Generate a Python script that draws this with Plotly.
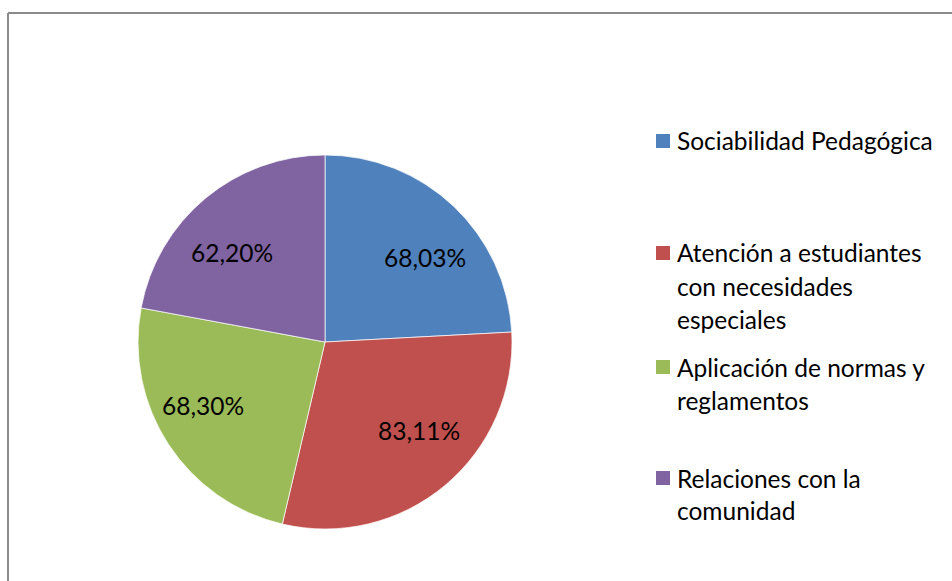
import math
import plotly.graph_objects as go

# Dimension scores shown as slices (values are the printed percentages)
categories = [
    "Sociabilidad Pedagógica",
    "Atención a estudiantes<br>con necesidades<br>especiales",
    "Aplicación de normas y<br>reglamentos",
    "Relaciones con la<br>comunidad",
]
values = [68.03, 83.11, 68.30, 62.20]
colors = ["#4F81BD", "#C0504D", "#9BBB59", "#8064A2"]

W, H = 952, 581
FONT = "Lato"
FS = 24.5


def px_x(x):
    return x / W


def px_y(y):
    return 1 - y / H


# Pie geometry in pixels
cx, cy, R = 325, 342, 187

fig = go.Figure()
fig.add_trace(go.Pie(
    labels=[c.replace("<br>", " ") for c in categories],
    values=values,
    sort=False,
    direction="clockwise",
    rotation=0,
    marker=dict(colors=colors, line=dict(color="rgba(255,255,255,0.7)", width=1)),
    textinfo="none",
    hoverinfo="label+value",
    showlegend=False,
    domain=dict(x=[px_x(cx - R), px_x(cx + R)], y=[px_y(cy + R), px_y(cy - R)]),
))

shapes = []
annotations = []

# Value labels inside each slice, placed along the slice's mid-angle
# on an ellipse (wider than tall, so the horizontal text fits the wedge)
total = sum(values)
start = 0.0
rx, ry = 0.78 * R, 0.62 * R
for v in values:
    sweep = v / total * 360
    mid = math.radians(start + sweep / 2)
    start += sweep
    lx = cx + rx * math.sin(mid)
    ly = cy - ry * math.cos(mid)
    annotations.append(dict(
        xref="paper", yref="paper", x=px_x(lx), y=px_y(ly),
        text=f"{v:.2f}".replace(".", ",") + "%",
        showarrow=False, xanchor="center", yanchor="middle",
        font=dict(family=FONT, size=FS, color="black"),
    ))

# Legend drawn as colour squares with wrapped labels
legend_top = [141, 253, 367, 478]
line_gap = 33
sq_x0, sq_x1, text_x = 656, 670, 675
for cat, col, y0 in zip(categories, colors, legend_top):
    shapes.append(dict(
        type="rect", xref="paper", yref="paper",
        x0=px_x(sq_x0), x1=px_x(sq_x1), y0=px_y(y0 - 7), y1=px_y(y0 + 7),
        fillcolor=col, line=dict(width=0),
    ))
    for i, line in enumerate(cat.split("<br>")):
        annotations.append(dict(
            xref="paper", yref="paper", x=px_x(text_x), y=px_y(y0 + i * line_gap),
            text=line, showarrow=False, xanchor="left", yanchor="middle",
            font=dict(family=FONT, size=FS, color="black"),
        ))

# Chart frame (top and left edges visible)
frame = "#8a8a8a"
shapes.append(dict(type="line", xref="paper", yref="paper",
                   x0=px_x(8), x1=1.01, y0=px_y(13), y1=px_y(13),
                   line=dict(color=frame, width=2)))
shapes.append(dict(type="line", xref="paper", yref="paper",
                   x0=px_x(8), x1=px_x(8), y0=px_y(13), y1=-0.01,
                   line=dict(color=frame, width=2)))

fig.update_layout(
    width=W, height=H,
    margin=dict(l=0, r=0, t=0, b=0),
    paper_bgcolor="white",
    plot_bgcolor="white",
    shapes=shapes,
    annotations=annotations,
    font=dict(family=FONT),
)

fig.write_html("out.html")
